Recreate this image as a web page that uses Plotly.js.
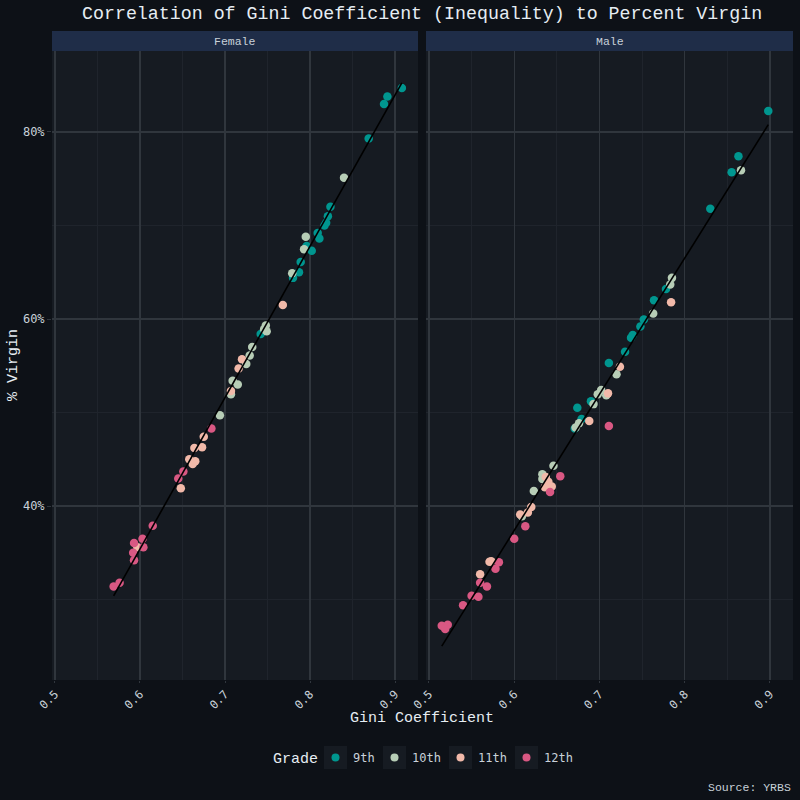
<!DOCTYPE html>
<html>
<head>
<meta charset="utf-8">
<script src="https://cdn.plot.ly/plotly-3.0.1.min.js"></script>
<style>html,body{margin:0;padding:0;background:#0d1117;}#chart{width:800px;height:800px;}</style>
</head>
<body>
<div id="chart"></div>
<script>
// ---- data ----
var grades = ['9th', '10th', '11th', '12th'];
var gradeColors = ['#00968f', '#b7cdb6', '#f1b9a9', '#d95883'];

var femaleGini9   = [0.908,0.891,0.887,0.869,0.824,0.821,0.819,0.817,0.809,0.811,0.796,0.802,0.789,0.787,0.780,0.742];
var femaleVirgin9 = [84.7,83.8,83.0,79.3,72.0,71.0,70.3,70.0,69.2,68.6,67.8,67.3,66.1,65.0,64.4,58.4];
var femaleGini10   = [0.840,0.795,0.793,0.779,0.748,0.749,0.746,0.732,0.729,0.725,0.709,0.715,0.707,0.694];
var femaleVirgin10 = [75.1,68.8,67.45,64.9,59.3,58.7,58.9,57.0,56.1,55.2,53.4,53.0,51.95,49.7];
var femaleGini11   = [0.768,0.720,0.716,0.707,0.675,0.673,0.664,0.658,0.662,0.665,0.648,0.597];
var femaleVirgin11 = [61.5,55.7,54.7,52.3,47.4,46.3,46.2,45.0,44.5,44.8,41.9,35.6];
var femaleGini12   = [0.684,0.651,0.645,0.615,0.603,0.593,0.604,0.592,0.593,0.576,0.569];
var femaleVirgin12 = [48.3,43.7,42.95,37.9,36.5,36.05,35.6,35.0,34.2,31.8,31.4];

var maleGini9   = [0.898,0.863,0.855,0.830,0.778,0.764,0.752,0.748,0.739,0.737,0.730,0.711,0.690,0.674,0.679,0.671];
var maleVirgin9 = [82.25,77.4,75.7,71.8,63.2,62.0,59.95,59.2,58.3,58.0,56.5,55.3,51.2,50.5,49.3,48.3];
var maleGini10   = [0.866,0.785,0.783,0.763,0.720,0.702,0.708,0.698,0.693,0.676,0.672,0.646,0.633,0.633,0.623,0.609];
var maleVirgin10 = [75.9,64.4,63.7,60.6,54.1,52.4,51.85,51.96,50.9,48.85,48.4,44.3,43.4,42.9,41.6,38.9];
var maleGini11   = [0.784,0.724,0.710,0.688,0.637,0.640,0.644,0.636,0.620,0.616,0.607,0.571,0.573,0.560];
var maleVirgin11 = [61.8,54.9,52.05,49.1,43.1,42.6,42.1,42.0,39.9,39.3,39.1,34.05,34.1,32.7];
var maleGini12   = [0.711,0.654,0.642,0.613,0.600,0.582,0.578,0.560,0.568,0.550,0.558,0.540,0.515,0.522,0.519];
var maleVirgin12 = [48.55,43.2,41.5,37.85,36.5,34.0,33.3,31.8,31.4,30.4,30.3,29.4,27.2,27.3,26.85];

var xTicks = [0.5, 0.6, 0.7, 0.8, 0.9];
var yTicks = [40, 60, 80];
var yTickLabels = ['40%', '60%', '80%'];

// ---- build ----
var femaleX = [femaleGini9, femaleGini10, femaleGini11, femaleGini12];
var femaleY = [femaleVirgin9, femaleVirgin10, femaleVirgin11, femaleVirgin12];
var maleX = [maleGini9, maleGini10, maleGini11, maleGini12];
var maleY = [maleVirgin9, maleVirgin10, maleVirgin11, maleVirgin12];

function lmLine(xs, ys) {
  var X = [].concat.apply([], xs), Y = [].concat.apply([], ys);
  var n = X.length, mx = 0, my = 0;
  for (var i = 0; i < n; i++) { mx += X[i]; my += Y[i]; }
  mx /= n; my /= n;
  var sxy = 0, sxx = 0;
  for (var j = 0; j < n; j++) { sxy += (X[j]-mx)*(Y[j]-my); sxx += (X[j]-mx)*(X[j]-mx); }
  var b = sxy / sxx, a = my - b * mx;
  var x0 = Math.min.apply(null, X), x1 = Math.max.apply(null, X);
  return {x: [x0, x1], y: [a + b*x0, a + b*x1]};
}

var traces = [];
function addPanel(xs, ys, xa, ya) {
  var fit = lmLine(xs, ys);
  for (var g = 0; g < grades.length; g++) {
    traces.push({type: 'scatter', mode: 'markers', x: xs[g], y: ys[g], xaxis: xa, yaxis: ya,
      name: grades[g], showlegend: false, hoverinfo: 'skip',
      marker: {color: gradeColors[g], size: 8.5, line: {width: 0}}});
  }
  traces.push({type: 'scatter', mode: 'lines', x: fit.x, y: fit.y, xaxis: xa, yaxis: ya,
    showlegend: false, hoverinfo: 'skip', line: {color: '#000000', width: 1.6}});
}
addPanel(femaleX, femaleY, 'x', 'y');
addPanel(maleX, maleY, 'x2', 'y2');

function px(v) { return v / 800; }
function py(v) { return 1 - v / 800; }

var monoA = 'Liberation Mono, DejaVu Sans Mono, monospace';
var monoB = 'DejaVu Sans Mono, Liberation Mono, monospace';
var tickFont = {family: monoB, size: 11.5, color: '#c9d1d9'};

var xBase = {
  range: [0.4965, 0.927], tickvals: xTicks, tickformat: '.1f', tickangle: -45,
  tickfont: tickFont, showgrid: true, gridcolor: '#30363d', gridwidth: 1.2,
  minor: {tickvals: [0.55, 0.65, 0.75, 0.85], showgrid: true, gridcolor: '#1f242c', gridwidth: 1},
  ticks: 'outside', ticklen: 2, tickcolor: '#30363d', zeroline: false, showline: false,
  automargin: false, fixedrange: true
};
var yBase = {
  range: [21.4, 88.66], tickvals: yTicks, ticktext: yTickLabels,
  tickfont: {family: monoB, size: 12, color: '#c9d1d9'}, showgrid: true, gridcolor: '#30363d', gridwidth: 1.2,
  minor: {tickvals: [30, 50, 70], showgrid: true, gridcolor: '#1f242c', gridwidth: 1},
  ticks: 'outside', ticklen: 4, tickcolor: '#30363d', zeroline: false, showline: false,
  automargin: false, fixedrange: true
};

var xd1 = [px(52), px(418)], xd2 = [px(426), px(793)], yd = [py(680), py(51)];

var shapes = [
  {type: 'rect', xref: 'paper', yref: 'paper', x0: xd1[0], x1: xd1[1], y0: py(51), y1: py(31), fillcolor: '#1f2d48', line: {width: 0}, layer: 'below'},
  {type: 'rect', xref: 'paper', yref: 'paper', x0: xd2[0], x1: xd2[1], y0: py(51), y1: py(31), fillcolor: '#1f2d48', line: {width: 0}, layer: 'below'}
];

var annotations = [
  {text: 'Correlation of Gini Coefficient (Inequality) to Percent Virgin', xref: 'paper', yref: 'paper', x: px(422), y: py(14), xanchor: 'center', yanchor: 'middle', showarrow: false, font: {family: monoA, size: 18.3, color: '#e6edf3'}},
  {text: 'Female', xref: 'paper', yref: 'paper', x: (xd1[0]+xd1[1])/2, y: py(41), xanchor: 'center', yanchor: 'middle', showarrow: false, font: {family: monoA, size: 11.5, color: '#c9d1d9'}},
  {text: 'Male', xref: 'paper', yref: 'paper', x: (xd2[0]+xd2[1])/2, y: py(41), xanchor: 'center', yanchor: 'middle', showarrow: false, font: {family: monoA, size: 11.5, color: '#c9d1d9'}},
  {text: 'Gini Coefficient', xref: 'paper', yref: 'paper', x: px(422), y: py(718), xanchor: 'center', yanchor: 'middle', showarrow: false, font: {family: monoA, size: 15, color: '#e6edf3'}},
  {text: '% Virgin', xref: 'paper', yref: 'paper', x: px(13), y: py(365), xanchor: 'center', yanchor: 'middle', textangle: -90, showarrow: false, font: {family: monoA, size: 15, color: '#e6edf3'}},
  {text: 'Source: YRBS', xref: 'paper', yref: 'paper', x: px(793), y: py(787), xanchor: 'right', yanchor: 'middle', showarrow: false, font: {family: monoA, size: 11.5, color: '#c9d1d9'}},
  {text: 'Grade', xref: 'paper', yref: 'paper', x: px(271), y: py(759), xanchor: 'left', yanchor: 'middle', showarrow: false, font: {family: monoA, size: 15, color: '#e6edf3'}}
];

// legend (manual)
var keyLeft = [324, 383, 449, 515];
for (var k = 0; k < grades.length; k++) {
  var l = keyLeft[k];
  shapes.push({type: 'rect', xref: 'paper', yref: 'paper', x0: px(l), x1: px(l+23), y0: py(769), y1: py(746), fillcolor: '#161b22', line: {width: 0}});
  shapes.push({type: 'circle', xref: 'paper', yref: 'paper', x0: px(l+11.5-4), x1: px(l+11.5+4), y0: py(757.5+4), y1: py(757.5-4), fillcolor: gradeColors[k], line: {width: 0}});
  annotations.push({text: grades[k], xref: 'paper', yref: 'paper', x: px(l+27), y: py(757.5), xanchor: 'left', yanchor: 'middle', showarrow: false, font: {family: monoB, size: 12, color: '#c9d1d9'}});
}

var layout = {
  width: 800, height: 800,
  margin: {l: 0, r: 0, t: 0, b: 0, pad: 0},
  paper_bgcolor: '#0d1117', plot_bgcolor: '#161b22',
  showlegend: false,
  xaxis: Object.assign({}, xBase, {domain: xd1, anchor: 'y'}),
  xaxis2: Object.assign({}, xBase, {domain: xd2, anchor: 'y2'}),
  yaxis: Object.assign({}, yBase, {domain: yd, anchor: 'x'}),
  yaxis2: Object.assign({}, yBase, {domain: yd, anchor: 'x2', showticklabels: false, ticks: ''}),
  shapes: shapes,
  annotations: annotations
};

Plotly.newPlot('chart', traces, layout, {staticPlot: true, displayModeBar: false});
</script>
</body>
</html>
